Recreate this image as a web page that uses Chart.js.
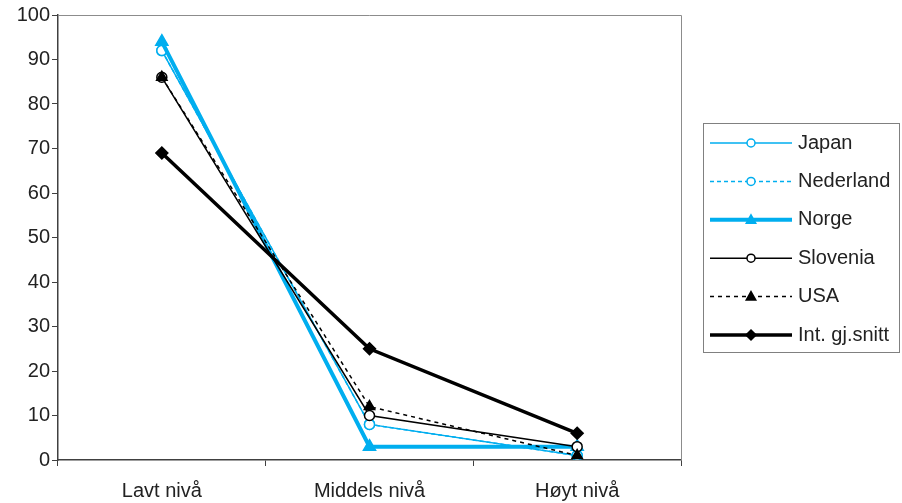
<!DOCTYPE html>
<html>
<head>
<meta charset="utf-8">
<script src="https://cdn.jsdelivr.net/npm/chart.js@4.4.1/dist/chart.umd.min.js"></script>
<style>
  html, body { margin: 0; padding: 0; background: #fff; }
  #wrap { width: 902px; height: 503px; }
</style>
</head>
<body>
<div id="wrap"><canvas id="chart" width="902" height="503"></canvas></div>
<script>
// data
var categories = ["Lavt nivå", "Middels nivå", "Høyt nivå"];
var japan     = [92, 8, 1];
var nederland = [92, 8, 1];
var norge     = [94, 3, 3];
var slovenia  = [86, 10, 3];
var usa       = [86, 12, 1];
var intSnitt  = [69, 25, 6];

var blue = "#00AEEF";
var black = "#000000";
var fontFamily = "'Liberation Sans', Arial, sans-serif";

function series(label, data, color, width, dash, style, radius, fill, order) {
  return {
    label: label,
    data: data,
    borderColor: color,
    borderWidth: width,
    borderDash: dash,
    pointStyle: style,
    pointRadius: radius,
    pointHoverRadius: radius,
    pointBackgroundColor: fill,
    pointBorderColor: color,
    pointBorderWidth: 1.5,
    tension: 0,
    fill: false,
    order: order
  };
}

var datasets = [
  series("Japan", japan, blue, 1.5, [], "circle", 5, "#fff", 6),
  series("Nederland", nederland, blue, 1.5, [4, 3], "circle", 5, "#fff", 5),
  series("Norge", norge, blue, 4, [], "triangle", 7, blue, 4),
  series("Slovenia", slovenia, black, 1.5, [], "circle", 5, "#fff", 3),
  series("USA", usa, black, 1.5, [4, 4], "triangle", 6, black, 2),
  series("Int. gj.snitt", intSnitt, black, 3.5, [], "rectRot", 6, black, 1)
];

// gray frame on top/right of plot area
var frame = {
  id: "frame",
  beforeDatasetsDraw: function(chart) {
    var a = chart.chartArea, ctx = chart.ctx;
    ctx.save();
    ctx.strokeStyle = "#8c8c8c";
    ctx.lineWidth = 1;
    ctx.beginPath();
    ctx.moveTo(a.left, a.top + 0.5);
    ctx.lineTo(a.right + 0.5, a.top + 0.5);
    ctx.lineTo(a.right + 0.5, a.bottom);
    ctx.stroke();
    ctx.restore();
  }
};

function marker(ctx, ds, x, y, r) {
  ctx.beginPath();
  if (ds.pointStyle === "circle") {
    ctx.arc(x, y, r, 0, Math.PI * 2);
  } else if (ds.pointStyle === "triangle") {
    ctx.moveTo(x, y - r);
    ctx.lineTo(x + r * 0.95, y + r * 0.7);
    ctx.lineTo(x - r * 0.95, y + r * 0.7);
    ctx.closePath();
  } else {
    ctx.moveTo(x, y - r);
    ctx.lineTo(x + r, y);
    ctx.lineTo(x, y + r);
    ctx.lineTo(x - r, y);
    ctx.closePath();
  }
  ctx.fillStyle = ds.pointBackgroundColor;
  ctx.fill();
  ctx.lineWidth = 1.5;
  ctx.strokeStyle = ds.pointBorderColor;
  ctx.stroke();
}

// legend box with line + marker samples
var boxLegend = {
  id: "boxLegend",
  afterDraw: function(chart) {
    var ctx = chart.ctx;
    var left = 703, top = 123, w = 196, h = 229;
    ctx.save();
    ctx.strokeStyle = "#808080";
    ctx.lineWidth = 1;
    ctx.strokeRect(left + 0.5, top + 0.5, w, h);
    chart.data.datasets.forEach(function(ds, i) {
      var y = 143 + i * 38.4;
      ctx.strokeStyle = ds.borderColor;
      ctx.lineWidth = ds.borderWidth;
      ctx.setLineDash(ds.borderDash);
      ctx.beginPath();
      ctx.moveTo(710, y);
      ctx.lineTo(792, y);
      ctx.stroke();
      ctx.setLineDash([]);
      marker(ctx, ds, 751, y, ds.pointStyle === "circle" ? 4 : 5);
      ctx.fillStyle = "#222";
      ctx.font = "20px " + fontFamily;
      ctx.textBaseline = "middle";
      ctx.textAlign = "left";
      ctx.fillText(ds.label, 798, y);
    });
    ctx.restore();
  }
};

var ctx = document.getElementById("chart");
var chart = new Chart(ctx, {
  type: "line",
  data: { labels: categories, datasets: datasets },
  options: {
    responsive: false,
    animation: false,
    layout: { padding: { top: 15, right: 221, left: 0, bottom: 0 } },
    plugins: { legend: { display: false }, tooltip: { enabled: false } },
    scales: {
      x: {
        offset: true,
        grid: { display: true, drawOnChartArea: false, drawTicks: true, tickLength: 6, color: "#404040", offset: true },
        border: { display: true, color: "#404040", width: 1.5 },
        ticks: { color: "#222", padding: 13, font: { size: 20, family: fontFamily }, maxRotation: 0 },
        afterFit: function(s) { s.height = 43; }
      },
      y: {
        min: 0,
        max: 100,
        ticks: { stepSize: 10, color: "#222", padding: 2, font: { size: 20, family: fontFamily } },
        grid: { display: true, drawOnChartArea: false, drawTicks: true, tickLength: 6, color: "#404040" },
        border: { display: true, color: "#404040", width: 1.5 },
        afterFit: function(s) { s.width = 58; }
      }
    }
  },
  plugins: [frame, boxLegend]
});
</script>
</body>
</html>
